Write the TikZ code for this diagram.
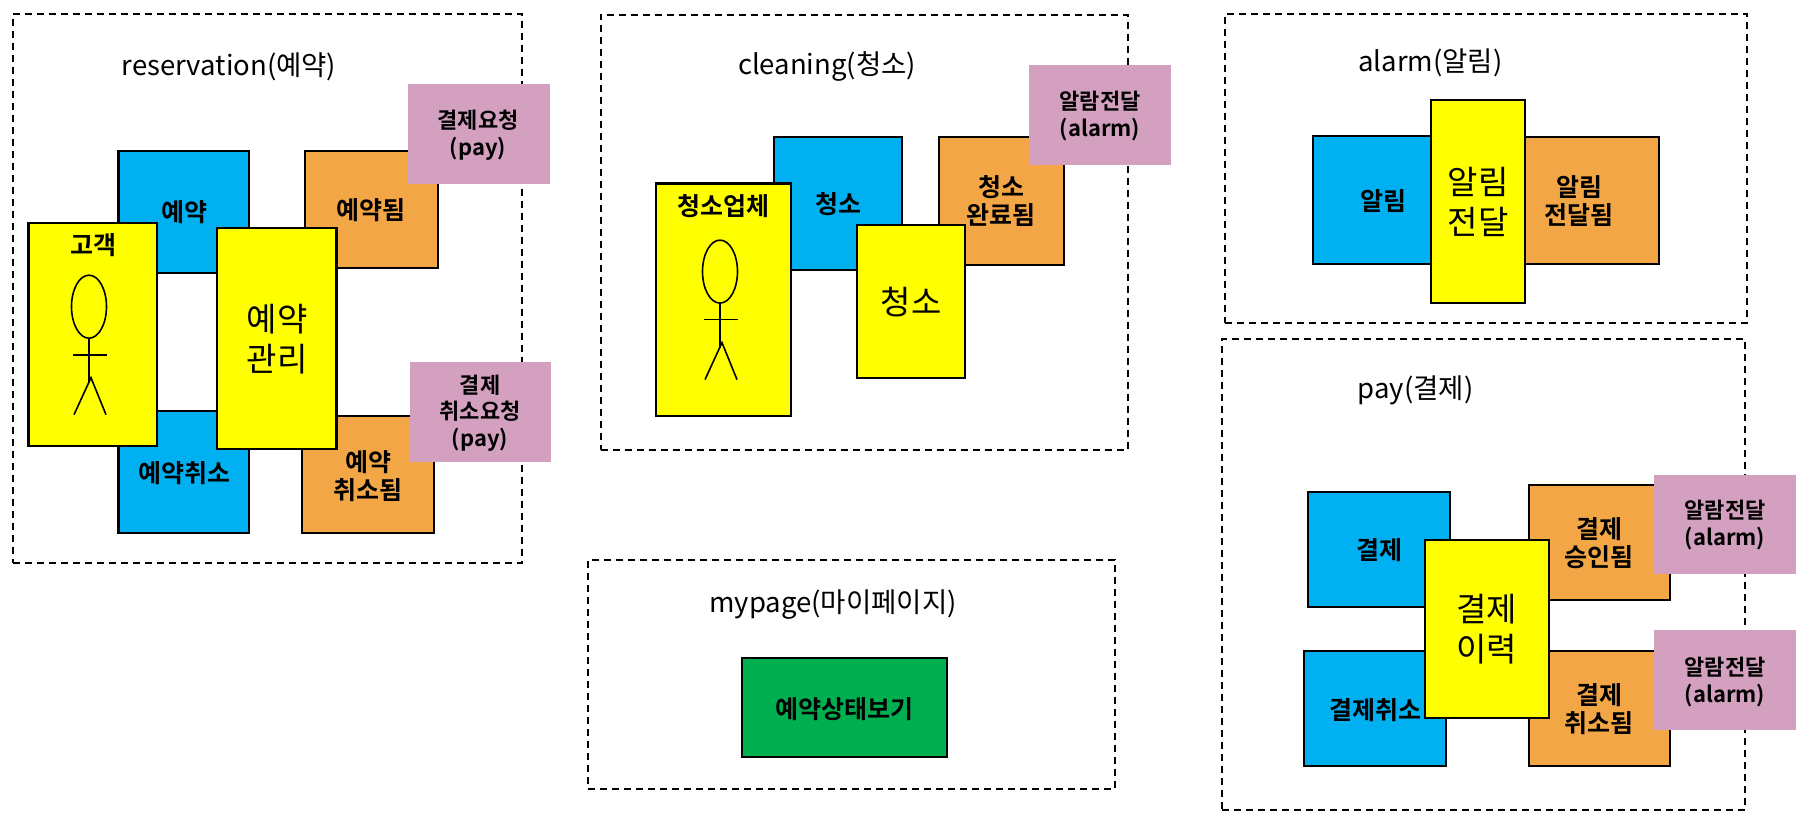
\documentclass[tikz,border=0pt]{standalone}
\usepackage{fontspec}
\setmainfont{Noto Sans CJK KR}[BoldFont={Noto Sans CJK KR Bold}]
\definecolor{cmdblue}{HTML}{00B0F0}
\definecolor{evtorange}{HTML}{F2A646}
\definecolor{polpink}{HTML}{D3A1BF}
\definecolor{viewgreen}{HTML}{00B050}
\definecolor{aggyellow}{HTML}{FFFF00}
\tikzset{
  group/.style={draw,line width=1.6pt,dash pattern=on 7pt off 5pt},
  cmd/.style={draw,line width=2.2pt,fill=cmdblue},
  evt/.style={draw,line width=2.2pt,fill=evtorange},
  agg/.style={draw,line width=2.2pt,fill=aggyellow},
  pol/.style={fill=polpink},
  view/.style={draw,line width=2.2pt,fill=viewgreen},
  title/.style={yshift=-2.5pt,font=\fontsize{27.5}{30}\selectfont},
  bold/.style={yshift=-1pt,align=center,inner sep=0pt,font=\fontsize{25}{28.5}\selectfont\bfseries},
  big/.style={yshift=-1pt,align=center,inner sep=0pt,font=\fontsize{33}{40}\selectfont},
  small/.style={yshift=-1pt,align=center,inner sep=0pt,font=\fontsize{22}{26.5}\selectfont\bfseries}
}
\begin{document}
\begin{tikzpicture}[x=1pt,y=-1pt]
    \def\card#1#2#3(#4,#5)(#6,#7)(#8)#9{
      \node [#1,inner sep=0pt,minimum width={#6-#4},minimum height={#7-#5}] (#3) at ({(#4+#6)/2},{(#5+#7)/2}) {};
      \node [#2] (#3txt) at (#8) {#9};
      }
    \def\actor(#1,#2)#3{
      \begin{scope}[shift={(#1,#2)},line width=1.6pt]
        \draw (0,0) ellipse (17.5 and 31.5);
        \draw (0,31) -- (0,76);
        \draw (-16,48) -- (18,48);
        \draw (-15,108) -- (2,71) -- (17,108);
      \end{scope}
      }
    \useasboundingbox (0,0) rectangle (1809,822);

  % reservation
  \card{group}{title}{reservation}(13,14)(522,563)(229,64.7){reservation(예약)}
  \card{cmd}{bold}{reserve}(118.5,151)(249,273)(184,211){예약}
  \card{cmd}{bold}{cancel}(118.5,411)(249,533)(184,472){예약취소}
  \card{evt}{bold}{reserved}(304.6,151)(438,268)(371,209){예약됨}
  \card{evt}{bold}{canceled}(302,416)(434,533)(368,475){예약\\취소됨}
  \card{pol}{small}{payreq}(408,84)(550,184)(478,134){결제요청\\(pay)}
  \card{pol}{small}{payrevoke}(410,362)(551,462)(480,412){결제\\취소요청\\(pay)}
  \card{agg}{bold}{customer}(28.5,222.7)(157,446)(93,244){고객}
  \actor(89,306.7){customer}
  \card{agg}{big}{booking}(217,228)(336.5,449)(277,338.5){예약\\관리}

  % cleaning
  \card{group}{title}{cleaning}(600.7,15)(1128,450)(827,64){cleaning(청소)}
  \card{cmd}{bold}{clean}(774,137)(902,270)(838,203){청소}
  \card{evt}{bold}{cleaned}(939,137)(1064,265)(1001,200){청소\\완료됨}
  \card{pol}{small}{notifya}(1029,65)(1171,165)(1100,115){알람전달\\(alarm)}
  \card{agg}{bold}{cleaner}(656,183.5)(791,416)(723.5,205){청소업체}
  \actor(720,271.6){cleaner}
  \card{agg}{big}{cleanagg}(857,225)(965,378)(911,301){청소}

  % mypage
  \card{group}{title}{mypage}(588,560)(1115,789)(833,602){mypage(마이페이지)}
  \card{view}{bold}{status}(742,658)(947,757)(844,708){예약상태보기}

  % alarm
  \card{group}{title}{alarm}(1225,14)(1747,323)(1430.5,60){alarm(알림)}
  \card{cmd}{bold}{notify}(1312.6,136)(1431,264)(1383,200){알림}
  \card{evt}{bold}{notified}(1525,137)(1659,264)(1579,200){알림\\전달됨}
  \card{agg}{big}{notifyagg}(1431,100)(1525,303)(1478,201){알림\\전달}

  % pay
  \card{group}{title}{pay}(1222,339)(1745,810)(1415.5,388){pay(결제)}
  \card{cmd}{bold}{payment}(1307.6,492)(1450,607)(1379,549){결제}
  \card{cmd}{bold}{paycancel}(1304,651)(1446,766)(1375.5,709){결제취소}
  \card{evt}{bold}{approved}(1529,485)(1670,600)(1599,542){결제\\승인됨}
  \card{evt}{bold}{paycanceled}(1529,651)(1670,766)(1599,708){결제\\취소됨}
  \card{pol}{small}{notifyb}(1654,475)(1796,574)(1725,524){알람전달\\(alarm)}
  \card{pol}{small}{notifyc}(1654,630)(1796,730)(1725,681){알람전달\\(alarm)}
  \card{agg}{big}{history}(1425,540)(1549,718)(1486.6,628){결제\\이력}
\end{tikzpicture}
\end{document}
